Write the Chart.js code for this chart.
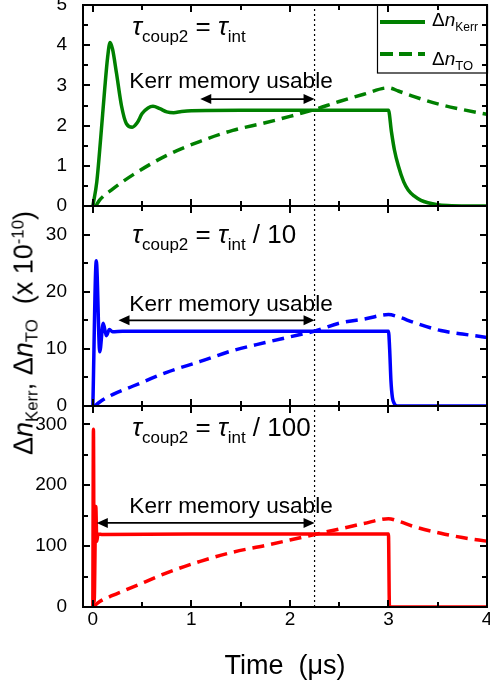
<!DOCTYPE html>
<html>
<head>
<meta charset="utf-8">
<script src="https://cdn.jsdelivr.net/npm/chart.js@4.4.1/dist/chart.umd.min.js"></script>
<style>
  html, body { margin: 0; padding: 0; background: #fff; }
  #wrap { position: relative; width: 490px; height: 681px; overflow: hidden; font-family: 'Liberation Sans', Arial, sans-serif; }
  canvas { position: absolute; left: 0; }
  #ytitle { position: absolute; left: 23.6px; top: 333px; transform: translate(-50%, -50%) rotate(-90deg);
            white-space: nowrap; font-size: 27px; line-height: 1; color: #000; }
  .sb { position: relative; top: 0.32em; font-size: 0.62em; }
  .sp { position: relative; top: -0.55em; font-size: 0.62em; }
</style>
</head>
<body>
<div id="wrap">
  <canvas id="c1" width="490" height="222" style="top:0px"></canvas>
  <canvas id="c2" width="490" height="226" style="top:194px"></canvas>
  <canvas id="c3" width="490" height="287" style="top:394px"></canvas>
  <div id="ytitle">&Delta;<i>n</i><span class="sb">Kerr</span>, &Delta;<i>n</i><span class="sb">TO</span>&nbsp; (x 10<span class="sp">-10</span>)</div>
</div>
<script>
// time axis (us) and values (x 1e-10)
const markerTime = 2.25;

// tau_coup2 = tau_int (green)
const kerrT1 = [0, 0.04, 0.08, 0.12, 0.15, 0.175, 0.2, 0.24, 0.29, 0.34, 0.4, 0.45, 0.5, 0.56, 0.61, 0.68, 0.75, 0.82, 0.9, 1.0, 1.5, 2.0, 2.5, 3.0, 3.03, 3.06, 3.1, 3.155, 3.2, 3.26, 3.33, 3.4, 3.5, 3.6, 3.8, 4.0];
const kerrV1 = [0, 0.6, 1.7, 2.9, 3.7, 4.07, 3.9, 3.3, 2.5, 2.05, 1.96, 2.07, 2.3, 2.44, 2.48, 2.42, 2.34, 2.32, 2.35, 2.37, 2.38, 2.38, 2.38, 2.38, 1.85, 1.4, 1.0, 0.6, 0.4, 0.25, 0.14, 0.08, 0.03, 0.01, 0, 0];
const toT1 = [0.03, 0.07, 0.2, 0.41, 0.75, 1.09, 1.42, 1.75, 2.0, 2.25, 2.5, 2.75, 3.0, 3.1, 3.26, 3.53, 3.75, 4.0];
const toV1 = [0, 0.15, 0.42, 0.78, 1.26, 1.61, 1.88, 2.07, 2.23, 2.4, 2.6, 2.78, 2.94, 2.86, 2.72, 2.52, 2.4, 2.28];

// tau_coup2 = tau_int / 10 (blue)
const kerrT2 = [0, 0.035, 0.07, 0.105, 0.137, 0.168, 0.2, 0.3, 1.0, 2.0, 3.0, 3.012, 3.025, 3.04, 3.06, 3.09, 3.5, 4.0];
const kerrV2 = [0, 25.4, 9.5, 14.5, 12.3, 13.4, 13.0, 13.1, 13.1, 13.1, 13.1, 10.0, 4.5, 1.5, 0.4, 0, 0, 0];
const toT2 = [0.02, 0.07, 0.2, 0.41, 0.75, 1.09, 1.42, 1.75, 2.0, 2.25, 2.5, 2.75, 3.0, 3.1, 3.26, 3.53, 3.75, 4.0];
const toV2 = [0, 0.7, 2.0, 3.5, 5.9, 7.8, 9.7, 11.1, 12.1, 13.1, 14.5, 15.2, 16.0, 15.6, 14.6, 13.2, 12.6, 12.0];

// tau_coup2 = tau_int / 100 (red)
const kerrT3 = [0, 0.006, 0.013, 0.03, 0.04, 0.052, 0.1, 1.0, 2.0, 3.0, 3.01, 3.5, 4.0];
const kerrV3 = [0, 292, 8, 165, 108, 120, 119, 120, 120, 120, 0, 0, 0];
const toT3 = [0, 0.07, 0.2, 0.41, 0.75, 1.09, 1.42, 1.75, 2.0, 2.25, 2.5, 2.75, 3.0, 3.1, 3.26, 3.53, 3.75, 4.0];
const toV3 = [0, 9, 19, 33, 56, 75, 90, 101, 110, 119, 128, 137, 145, 141, 132, 121, 114, 108];

const panelSuffix = ['', ' / 10', ' / 100'];
const memoryText = 'Kerr memory usable';

const FONT = "'Liberation Sans', Arial, Helvetica, sans-serif";
Chart.defaults.font.family = FONT;
Chart.defaults.color = '#000';

function points(ts, vs) {
	return ts.map((t, i) => ({x: t, y: vs[i]}));
}

function isMult(v, step) {
	return Math.abs(v / step - Math.round(v / step)) < 1e-6;
}

function drawRich(ctx, x, y, parts) {
	parts.forEach(p => {
		ctx.font = (p.italic ? 'italic ' : '') + p.size + 'px ' + FONT;
		ctx.fillText(p.text, x, y + (p.dy || 0));
		x += ctx.measureText(p.text).width;
	});
}

function arrowHead(ctx, x, y, dir) {
	ctx.beginPath();
	ctx.moveTo(x, y);
	ctx.lineTo(x - dir * 11, y - 5);
	ctx.lineTo(x - dir * 11, y + 5);
	ctx.closePath();
	ctx.fill();
}

function makeDeco(p) {
	return {
		id: 'deco',
		afterDatasetsDraw(chart) {
			const {ctx, chartArea: a, scales: {x, y}} = chart;
			ctx.save();
			ctx.fillStyle = '#000';
			ctx.strokeStyle = '#000';
			ctx.textBaseline = 'alphabetic';
			ctx.textAlign = 'left';

			// tau label
			drawRich(ctx, x.getPixelForValue(0.4), y.getPixelForValue(p.labelY), [
				{text: 'τ', size: 26, italic: true},
				{text: 'coup2', size: 17, dy: 7},
				{text: ' = ', size: 26},
				{text: 'τ', size: 26, italic: true},
				{text: 'int', size: 17, dy: 7},
				{text: p.suffix, size: 26}
			]);

			// memory text and double arrow
			ctx.font = '22.6px ' + FONT;
			ctx.fillText(memoryText, x.getPixelForValue(0.37), y.getPixelForValue(p.textY));
			const x1 = x.getPixelForValue(p.arrowFrom);
			const x2 = x.getPixelForValue(markerTime);
			const ay = y.getPixelForValue(p.arrowY);
			ctx.lineWidth = 1.8;
			ctx.beginPath();
			ctx.moveTo(x1 + 8, ay);
			ctx.lineTo(x2 - 8, ay);
			ctx.stroke();
			arrowHead(ctx, x1, ay, -1);
			arrowHead(ctx, x2, ay, 1);

			// legend
			if (p.legend) {
				const lx = a.right - 110, ly = a.top;
				ctx.fillStyle = '#fff';
				ctx.fillRect(lx, ly, 110, 68);
				ctx.fillStyle = '#000';
				ctx.lineWidth = 1.2;
				ctx.strokeRect(lx + 0.5, ly, 110, 68);
				ctx.strokeStyle = p.color;
				ctx.lineWidth = 4;
				ctx.beginPath();
				ctx.moveTo(lx + 3, ly + 17); ctx.lineTo(lx + 48, ly + 17);
				ctx.stroke();
				ctx.setLineDash([13, 6]);
				ctx.beginPath();
				ctx.moveTo(lx + 3, ly + 49); ctx.lineTo(lx + 48, ly + 49);
				ctx.stroke();
				ctx.setLineDash([]);
				drawRich(ctx, lx + 55, ly + 21, [
					{text: 'Δ', size: 19}, {text: 'n', size: 19, italic: true}, {text: 'Kerr', size: 12, dy: 5}
				]);
				drawRich(ctx, lx + 55, ly + 60, [
					{text: 'Δ', size: 19}, {text: 'n', size: 19, italic: true}, {text: 'TO', size: 13, dy: 5}
				]);
			}
			ctx.restore();
		},
		afterDraw(chart) {
			const {ctx, chartArea: a, scales: {x, y}} = chart;
			ctx.save();
			ctx.setLineDash([]);
			ctx.strokeStyle = '#000';
			ctx.lineWidth = 2;
			ctx.lineCap = 'butt';

			// inward ticks on all four sides
			ctx.beginPath();
			for (let v = 0; v <= 4 + 1e-9; v += 0.5) {
				const px = Math.round(x.getPixelForValue(v));
				const len = isMult(v, 1) ? 7 : 5;
				ctx.moveTo(px, a.bottom);
				ctx.lineTo(px, a.bottom - len);
				ctx.moveTo(px, a.top);
				ctx.lineTo(px, a.top + len);
			}
			for (let v = 0; v <= p.yMax + 1e-9; v += p.yStep) {
				const py = Math.round(y.getPixelForValue(v));
				const len = isMult(v, p.yMajor) ? 7 : 5;
				ctx.moveTo(a.left, py);
				ctx.lineTo(a.left + len, py);
				ctx.moveTo(a.right, py);
				ctx.lineTo(a.right - len, py);
			}
			ctx.stroke();

			ctx.strokeRect(a.left, a.top, a.right - a.left, a.bottom - a.top);
			ctx.restore();
		}
	};
}

const panels = [
	{id: 'c1', color: '#008000', kerr: points(kerrT1, kerrV1), to: points(toT1, toV1),
	 yMax: 5, yStep: 0.5, yMajor: 1, padTop: 5, padBottom: 16, xAxisH: 0, showX: false,
	 labelY: 4.25, textY: 2.93, arrowY: 2.66, arrowFrom: 1.09, legend: true, suffix: panelSuffix[0]},
	{id: 'c2', color: '#0000ff', kerr: points(kerrT2, kerrV2), to: points(toT2, toV2),
	 yMax: 35, yStep: 5, yMajor: 10, padTop: 12, padBottom: 14, xAxisH: 0, showX: false,
	 labelY: 28.6, textY: 16.7, arrowY: 15.0, arrowFrom: 0.26, legend: false, suffix: panelSuffix[1]},
	{id: 'c3', color: '#ff0000', kerr: points(kerrT3, kerrV3), to: points(toT3, toV3),
	 yMax: 330, yStep: 50, yMajor: 100, padTop: 12, padBottom: 0, xAxisH: 74, showX: true,
	 labelY: 280, textY: 154, arrowY: 138, arrowFrom: 0.04, legend: false, suffix: panelSuffix[2]}
];

panels.forEach(p => {
	new Chart(document.getElementById(p.id), {
		type: 'line',
		data: {
			datasets: [
				{data: p.kerr, borderColor: p.color, borderWidth: 3.5, pointRadius: 0,
				 borderJoinStyle: 'round', cubicInterpolationMode: 'monotone'},
				{data: p.to, borderColor: p.color, borderWidth: 3.5, borderDash: [12, 7], pointRadius: 0,
				 cubicInterpolationMode: 'monotone'},
				{data: [{x: markerTime, y: 0}, {x: markerTime, y: p.yMax}], borderColor: '#000',
				 borderWidth: 1.2, borderDash: [2, 3], pointRadius: 0}
			]
		},
		options: {
			responsive: false,
			animation: false,
			layout: {padding: {left: 0, right: 3, top: p.padTop, bottom: p.padBottom}},
			plugins: {legend: {display: false}, tooltip: {enabled: false}},
			scales: {
				x: {
					type: 'linear', min: -0.1, max: 4,
					grid: {display: false}, border: {display: false},
					ticks: {
						display: p.showX, stepSize: 0.5, autoSkip: false, includeBounds: false,
						maxRotation: 0, padding: -7, font: {size: 19}, color: '#000',
						callback: v => isMult(v, 1) ? String(Math.round(v)) : ''
					},
					title: {display: p.showX, text: 'Time  (μs)', font: {size: 27}, color: '#000',
					        padding: {top: 0, bottom: -2}},
					afterFit: s => {
						s.height = p.xAxisH;
						s.paddingLeft = 0;
						s.paddingRight = 0;
					}
				},
				y: {
					type: 'linear', min: 0, max: p.yMax,
					grid: {display: false}, border: {display: false},
					ticks: {
						stepSize: p.yStep, autoSkip: false, includeBounds: false, padding: 8,
						font: {size: 19}, color: '#000',
						callback: v => isMult(v, p.yMajor) ? String(Math.round(v)) : ''
					},
					afterFit: s => {
						s.width = 83;
						s.paddingTop = 0;
						s.paddingBottom = 0;
					}
				}
			}
		},
		plugins: [makeDeco(p)]
	});
});
</script>
</body>
</html>
